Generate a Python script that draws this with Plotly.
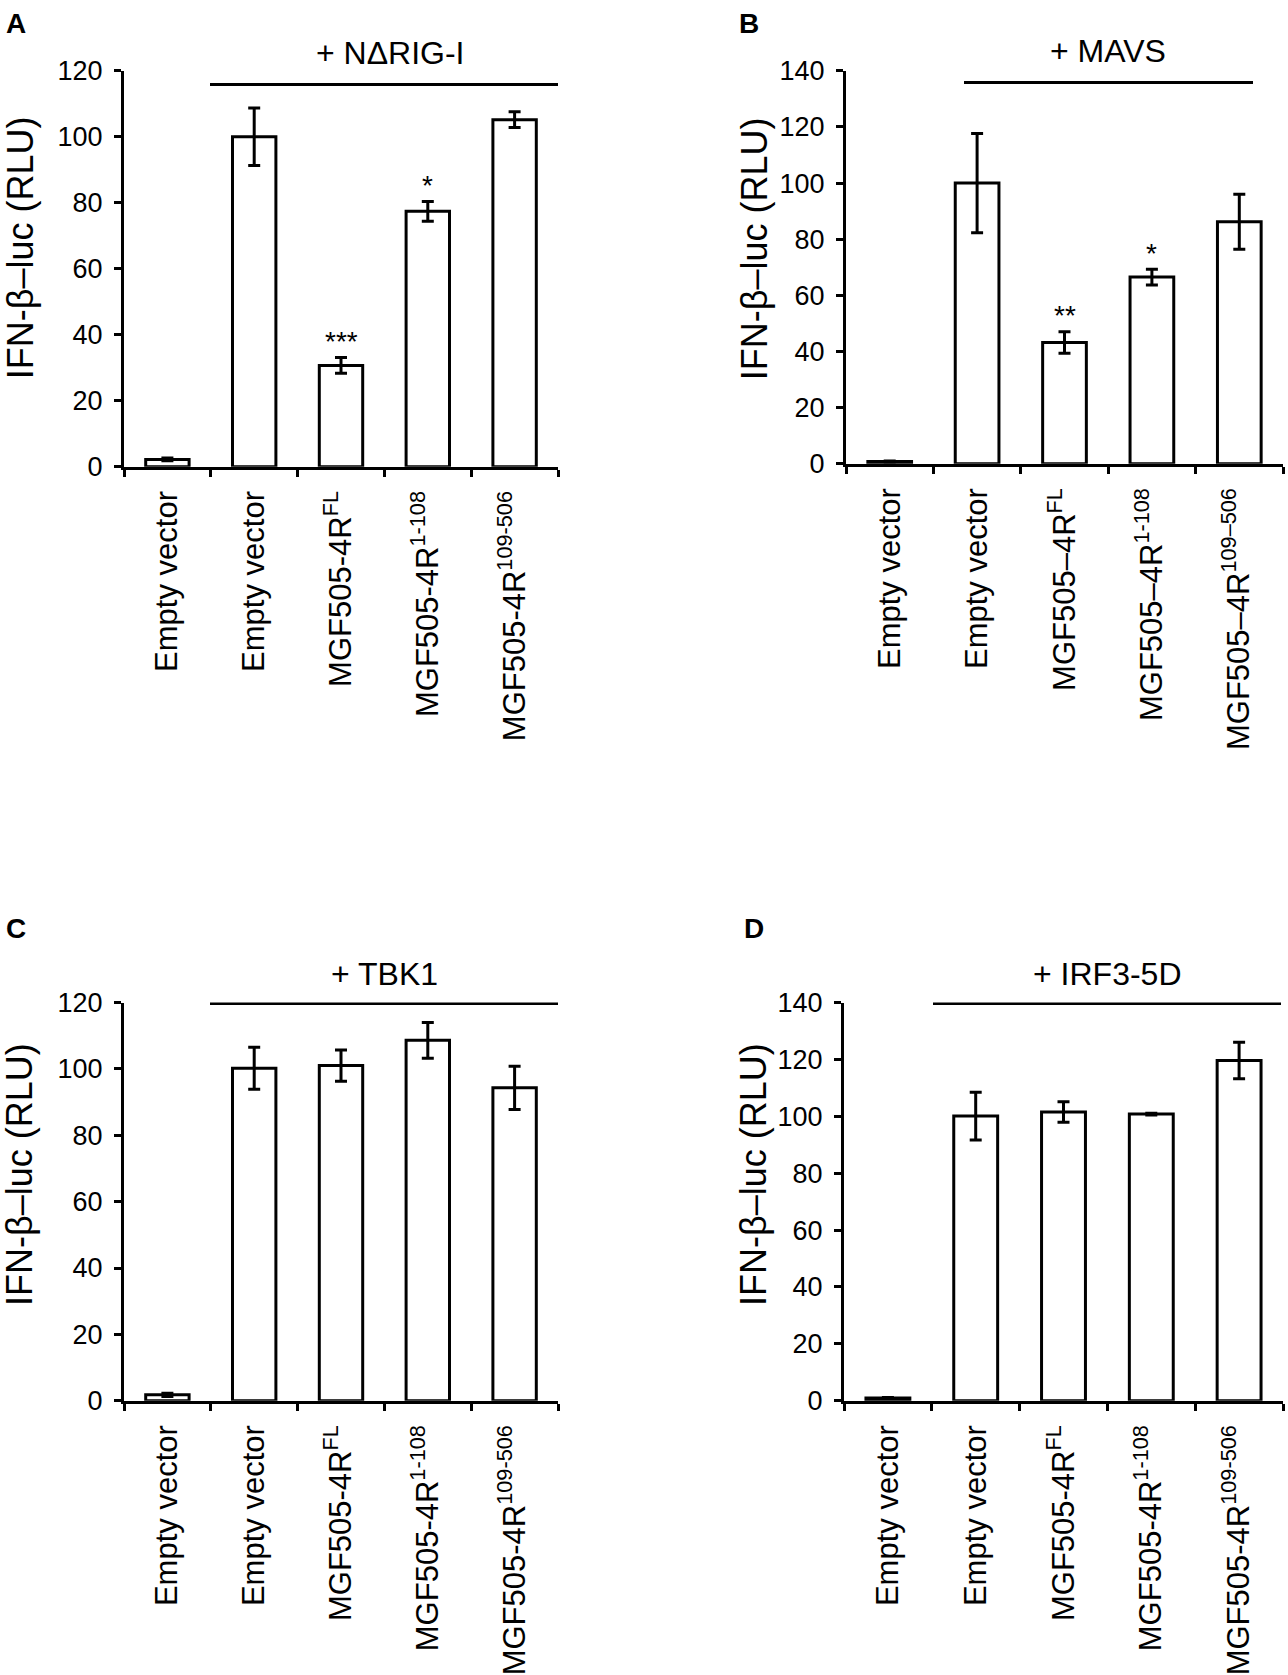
import plotly.graph_objects as go

W, H = 1288, 1675
FONT = "Liberation Sans, Arial, sans-serif"

# ---------------- data ----------------
labels_A = ["Empty vector", "Empty vector", "MGF505-4R<sup>FL</sup>",
            "MGF505-4R<sup>1-108</sup>", "MGF505-4R<sup>109-506</sup>"]
labels_B = ["Empty vector", "Empty vector", "MGF505–4R<sup>FL</sup>",
            "MGF505–4R<sup>1-108</sup>", "MGF505–4R<sup>109–506</sup>"]
labels_C = list(labels_A)
labels_D = list(labels_A)

values_A = [2.2, 100.0, 30.7, 77.4, 105.2]
errors_A = [0.4, 8.7, 2.4, 3.0, 2.4]
values_B = [0.8, 100.0, 43.2, 66.5, 86.2]
errors_B = [0.2, 17.7, 3.8, 2.8, 9.8]
values_C = [1.8, 100.2, 101.0, 108.6, 94.3]
errors_C = [0.5, 6.3, 4.7, 5.4, 6.5]
values_D = [1.0, 100.1, 101.5, 100.8, 119.6]
errors_D = [0.2, 8.4, 3.6, 0.3, 6.4]

sig_A = ["", "", "***", "*", ""]
sig_B = ["", "", "**", "*", ""]
sig_C = ["", "", "", "", ""]
sig_D = ["", "", "", "", ""]

groups = ["+ NΔRIG-I", "+ MAVS", "+ TBK1", "+ IRF3-5D"]
panel_letters = ["A", "B", "C", "D"]
y_max = [120, 140, 120, 140]
y_dtick = 20
y_title = "IFN-β–luc (RLU)"

# ---------------- layout (pixel geometry of the page) ----------------
px_x = [(124.0, 558.0), (846.0, 1283.0), (124.0, 558.0), (844.0, 1283.0)]
px_y = [(461.0, 57.0), (458.0, 57.0), (1414.5, 1008.0), (1414.5, 1008.0)]
group_line_px = [(210, 561, 71), (964, 1253, 69), (210, 561, 1009), (933, 1281, 1009)]
group_text_px = [(390, 39), (1108, 37), (384, 979), (1107, 979)]
letter_pos = [(4, 9), (737, 9), (4, 932), (742, 932)]
ytitle_pos = [(20, 238), (754, 239), (20, 1184), (754, 1184)]

panels = [
    (labels_A, values_A, errors_A, sig_A),
    (labels_B, values_B, errors_B, sig_B),
    (labels_C, values_C, errors_C, sig_C),
    (labels_D, values_D, errors_D, sig_D),
]

fig = go.Figure()
annotations = []
shapes = []
layout_axes = {}

for i, (labels, vals, errs, sigs) in enumerate(panels):
    n = i + 1
    xa = "x" if n == 1 else f"x{n}"
    ya = "y" if n == 1 else f"y{n}"
    xpos = list(range(len(labels)))
    x0, x1 = px_x[i]
    yb, yt = px_y[i]
    ncat = len(labels)

    def px_to_xdata(p, x0=x0, x1=x1, ncat=ncat):
        return -0.5 + (p - x0) / (x1 - x0) * ncat

    def px_to_ydata(p, yb=yb, yt=yt, ym=y_max[i]):
        return (yb - p) / (yb - yt) * ym

    fig.add_trace(go.Bar(
        x=xpos, y=vals, xaxis=xa, yaxis=ya, width=0.5,
        marker=dict(color="white", line=dict(color="black", width=3)),
        error_y=dict(type="data", array=errs, visible=True, color="black",
                     thickness=3, width=6),
        showlegend=False, cliponaxis=False,
    ))
    layout_axes[f"xaxis{'' if n == 1 else n}"] = dict(
        domain=[x0 / W, x1 / W], anchor=ya,
        range=[-0.5, ncat - 0.5], tickmode="array",
        tickvals=xpos, ticktext=labels, tickangle=-90,
        ticks="", showline=True, linecolor="black", linewidth=3,
        showgrid=False, zeroline=False, ticklabelstandoff=9,
        tickfont=dict(family=FONT, size=31, color="black"),
        minor=dict(tickmode="linear", tick0=0.5, dtick=1, ticks="outside",
                   ticklen=7, tickwidth=3, tickcolor="black", showgrid=False),
        fixedrange=True,
    )
    layout_axes[f"yaxis{'' if n == 1 else n}"] = dict(
        domain=[1 - yb / H, 1 - yt / H], anchor=xa,
        range=[0, y_max[i]], dtick=y_dtick, tick0=0,
        ticks="outside", ticklen=7, tickwidth=3, tickcolor="black",
        showline=True, linecolor="black", linewidth=3,
        showgrid=False, zeroline=False, ticklabelstandoff=6,
        tickfont=dict(family=FONT, size=27, color="black"),
        fixedrange=True,
    )
    gx0, gx1, gy = group_line_px[i]
    shapes.append(dict(type="line", xref=xa, yref=ya,
                       x0=px_to_xdata(gx0), x1=px_to_xdata(gx1),
                       y0=px_to_ydata(gy), y1=px_to_ydata(gy),
                       line=dict(color="black", width=3)))
    gtx, gty = group_text_px[i]
    annotations.append(dict(text=groups[i], xref="paper", yref="paper",
                            x=gtx / W, y=1 - gty / H,
                            showarrow=False, xanchor="center", yanchor="middle",
                            font=dict(family=FONT, size=32, color="black")))
    for k, s in enumerate(sigs):
        if s:
            annotations.append(dict(text=s, xref=xa, yref=ya, x=xpos[k], y=vals[k] + errs[k],
                                    yshift=16, showarrow=False, xanchor="center",
                                    yanchor="middle",
                                    font=dict(family=FONT, size=28, color="black")))
    lx, ly = letter_pos[i]
    annotations.append(dict(text=f"<b>{panel_letters[i]}</b>", xref="paper", yref="paper",
                            x=lx / W, y=1 - ly / H, xanchor="left", yanchor="middle",
                            showarrow=False, font=dict(family=FONT, size=28, color="black")))
    tx2, ty2 = ytitle_pos[i]
    annotations.append(dict(text=y_title, xref="paper", yref="paper",
                            x=tx2 / W, y=1 - ty2 / H, xanchor="center", yanchor="middle",
                            textangle=-90, showarrow=False,
                            font=dict(family=FONT, size=36, color="black")))

fig.update_layout(
    width=W, height=H,
    margin=dict(l=0, r=0, t=0, b=0),
    paper_bgcolor="white", plot_bgcolor="white",
    font=dict(family=FONT, color="black"),
    annotations=annotations, shapes=shapes,
    **layout_axes,
)

fig.write_html("out.html", config={"displayModeBar": False},
               post_script="document.body.style.margin='0px';document.body.style.padding='0px';")
